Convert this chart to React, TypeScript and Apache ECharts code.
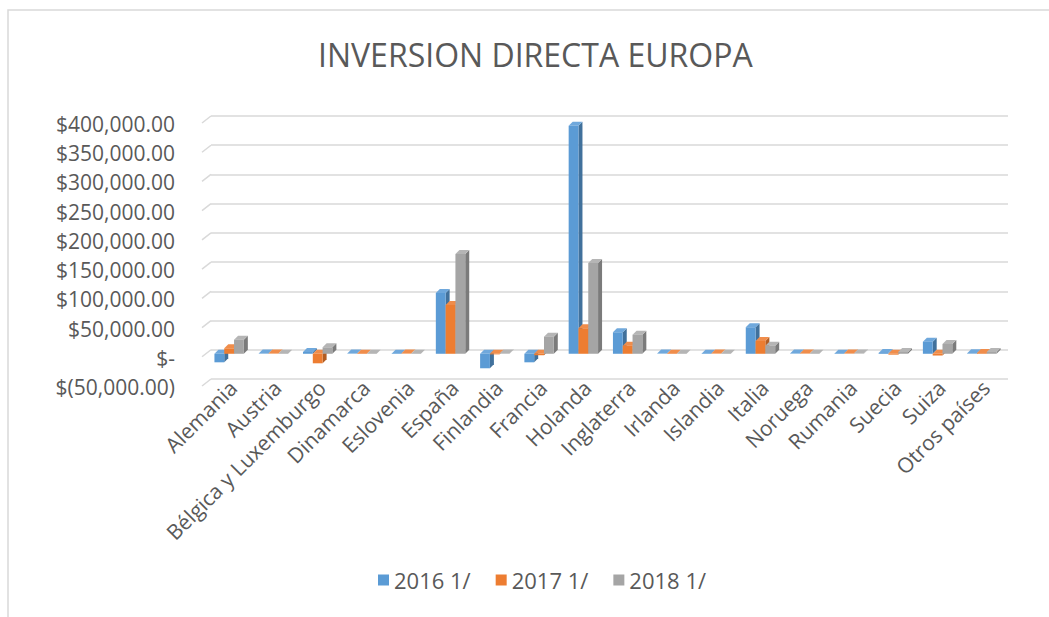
import React, { useEffect, useRef } from "react";
import * as echarts from "echarts";

const categories = [
  "Alemania", "Austria", "Bélgica y Luxemburgo", "Dinamarca", "Eslovenia", "España",
  "Finlandia", "Francia", "Holanda", "Inglaterra", "Irlanda", "Islandia", "Italia",
  "Noruega", "Rumania", "Suecia", "Suiza", "Otros países",
];
const seriesNames = ["2016 1/", "2017 1/", "2018 1/"];
const values2016 = [-14600, 400, 3000, 300, 200, 104000, -24800, -14600, 390000, 36800, 300, 200, 45400, 300, 200, 1500, 20700, 800];
const values2017 = [9400, 300, -16300, 200, 300, 83600, -1000, -2500, 43700, 13900, 200, 300, 21900, 300, 300, -1500, -3000, 1200];
const values2018 = [24100, 200, 11100, 200, 200, 170900, 500, 29300, 155500, 32700, 200, 200, 13900, 200, 300, 3000, 16800, 3000];
const yTicks = [-50000, 0, 50000, 100000, 150000, 200000, 250000, 300000, 350000, 400000];

const palette = [
  { front: "#5B9BD5", side: "#41719C", top: "#6FA8DC" },
  { front: "#ED7D31", side: "#B35D22", top: "#F08D4B" },
  { front: "#A5A5A5", side: "#7B7B7B", top: "#B5B5B5" },
];

const FONT = "'Open Sans', sans-serif";
const TEXT = "#595959";
const BAR_W = 9.8;
const D = 4;

function fmt(v: number) {
  if (v === 0) return "$-";
  const s = Math.abs(v).toLocaleString("en-US", { minimumFractionDigits: 2, maximumFractionDigits: 2 });
  return v < 0 ? "$(" + s + ")" : "$" + s;
}

function barSeries(idx: number, data: number[]) {
  const c = palette[idx];
  return {
    type: "custom",
    name: seriesNames[idx],
    itemStyle: { color: c.front },
    encode: { x: 0, y: 1 },
    data: data.map((v, i) => [i, v]),
    renderItem: (params: any, api: any) => {
      const ci = api.value(0);
      const v = api.value(1);
      const p = api.coord([ci, v]);
      const p0 = api.coord([ci, 0]);
      const x0 = p[0] + (idx - 1.5) * BAR_W - D;
      const yv = p[1] + D;
      const yb = p0[1] + D;
      const yt = Math.min(yv, yb);
      const ybot = Math.max(yv, yb);
      const x1 = x0 + BAR_W;
      return {
        type: "group",
        children: [
          {
            type: "polygon",
            shape: { points: [[x1, yt], [x1 + D, yt - D], [x1 + D, ybot - D], [x1, ybot]] },
            style: { fill: c.side },
          },
          {
            type: "polygon",
            shape: { points: [[x0, yt], [x1, yt], [x1 + D, yt - D], [x0 + D, yt - D]] },
            style: { fill: c.top },
          },
          {
            type: "rect",
            shape: { x: x0, y: yt, width: BAR_W, height: ybot - yt },
            style: { fill: c.front },
          },
        ],
      };
    },
  };
}

export default function App() {
  const ref = useRef<HTMLDivElement>(null);
  useEffect(() => {
    if (!ref.current) return;
    const chart = echarts.init(ref.current, null, { renderer: "svg" });
    chart.setOption({
      animation: false,
      backgroundColor: "#ffffff",
      textStyle: { fontFamily: FONT },
      title: {
        text: "INVERSION DIRECTA EUROPA",
        left: 313,
        top: 33,
        textStyle: { fontFamily: FONT, fontSize: 32, fontWeight: "normal", color: TEXT },
      },
      graphic: [
        {
          type: "rect",
          shape: { x: 8, y: 10, width: 1100, height: 700 },
          style: { fill: "none", stroke: "#d9d9d9", lineWidth: 1.5 },
          silent: true,
        },
      ],
      legend: {
        data: seriesNames,
        bottom: 21,
        left: 373,
        icon: "rect",
        itemWidth: 11,
        itemHeight: 11,
        itemGap: 25,
        textStyle: { fontFamily: FONT, fontSize: 22, color: TEXT },
      },
      grid: { left: 211, right: 41, top: 116, bottom: 238, containLabel: false },
      xAxis: {
        type: "category",
        data: categories,
        axisLine: { show: false },
        axisTick: { show: false },
        axisLabel: {
          interval: 0,
          rotate: 45,
          margin: 5,
          fontFamily: FONT,
          fontSize: 21,
          color: TEXT,
        },
      },
      yAxis: {
        type: "value",
        min: -50000,
        max: 400000,
        interval: 50000,
        axisLine: { show: false },
        axisTick: { show: false },
        splitLine: { lineStyle: { color: "#d9d9d9", width: 1.5 } },
        axisLabel: {
          margin: 36,
          verticalAlign: "top",
          lineHeight: 16,
          fontFamily: FONT,
          fontSize: 21,
          color: TEXT,
          formatter: (v: number) => fmt(v),
        },
      },
      series: [
        {
          type: "custom",
          name: "walls",
          silent: true,
          data: yTicks.map((v) => [0, v]),
          encode: { x: 0, y: 1 },
          renderItem: (params: any, api: any) => {
            const p = api.coord([0, api.value(1)]);
            const x = params.coordSys.x;
            return {
              type: "line",
              shape: { x1: x - 9, y1: p[1] + 7, x2: x, y2: p[1] },
              style: { stroke: "#d9d9d9", lineWidth: 1.5 },
            };
          },
        },
        barSeries(0, values2016),
        barSeries(1, values2017),
        barSeries(2, values2018),
      ],
    });
    return () => chart.dispose();
  }, []);
  return (
    <div
      ref={ref}
      style={{ position: "fixed", left: 0, top: 0, width: 1049, height: 617 }}
    />
  );
}
